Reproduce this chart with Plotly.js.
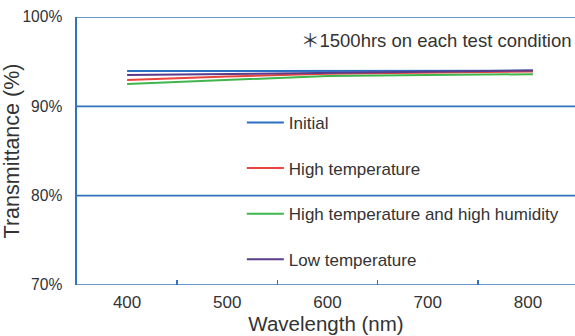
<!DOCTYPE html>
<html><head><meta charset="utf-8">
<script src="https://cdn.plot.ly/plotly-3.0.1.min.js"></script>
<style>html,body{margin:0;padding:0;background:#fff}#c{width:575px;height:336px}</style>
</head><body><div id="c"></div><script>
const wavelength = [400, 500, 600, 700, 805];
const initial = [93.95, 93.97, 93.98, 93.99, 94.0];
const highTemp = [92.95, 93.35, 93.65, 93.8, 93.9];
const highTempHum = [92.5, 92.95, 93.4, 93.5, 93.6];
const lowTemp = [93.5, 93.63, 93.76, 93.88, 94.0];
const seriesNames = ['Initial', 'High temperature', 'High temperature and high humidity', 'Low temperature'];
const seriesColors = ['#2a6fc1', '#e8453c', '#3fb54c', '#5a3c8c'];
const xTickVals = [400, 500, 600, 700, 800];
const xMinorTickVals = [450, 550, 650, 750];
const yTickVals = [70, 80, 90, 100];
const yTickText = ['70%', '80%', '90%', '100%'];

const axisBlue = '#3273c0';
const textColor = '#333';
const fontFam = '"Liberation Sans", Arial, "Noto Sans CJK JP", sans-serif';
const series = [initial, highTemp, highTempHum, lowTemp];
const traces = series.map((s, i) => ({
  x: wavelength, y: s, type: 'scatter', mode: 'lines', name: seriesNames[i],
  legendgroup: 'g' + i, line: {color: seriesColors[i], width: 2}
}));
const shapes = yTickVals.map(v => ({type: 'line', xref: 'paper', yref: 'y', x0: 0, x1: 1, y0: v, y1: v,
  line: {color: axisBlue, width: 1.6}}));
const layout = {
  width: 575, height: 336,
  margin: {l: 77, r: 0, t: 17, b: 51},
  paper_bgcolor: '#fff', plot_bgcolor: '#fff',
  font: {family: fontFam, color: textColor},
  xaxis: {range: [350, 847], tickvals: xTickVals, ticks: '', showgrid: false, zeroline: false,
    showline: false, tickfont: {size: 17, color: textColor}, ticklabelstandoff: 5,
    minor: {tickvals: xMinorTickVals, ticks: 'inside', ticklen: 5, tickcolor: axisBlue, tickwidth: 1.6, showgrid: false},
    title: {text: 'Wavelength (nm)', font: {size: 20.5, color: textColor}, standoff: 3}},
  yaxis: {range: [70, 100], tickvals: yTickVals, ticktext: yTickText, ticks: '', showgrid: false, zeroline: false,
    showline: true, linecolor: axisBlue, linewidth: 1.6, tickfont: {size: 15.6, color: textColor}, ticklabelstandoff: 10,
    title: {text: 'Transmittance (%)', font: {size: 21.5, color: textColor}, standoff: 0}},
  shapes: shapes,
  showlegend: true,
  legend: {x: 0.331, y: 0.672, xanchor: 'left', yanchor: 'top', bgcolor: 'rgba(0,0,0,0)',
    tracegroupgap: 20.5, itemwidth: 37, font: {size: 17, color: textColor}},
  annotations: [{xref: 'paper', yref: 'paper', x: 0.996, y: 0.914, xanchor: 'right', yanchor: 'middle',
    showarrow: false, text: '＊1500hrs on each test condition', font: {size: 18.5, color: textColor}}]
};
Plotly.newPlot('c', traces, layout, {displayModeBar: false, staticPlot: true});
</script></body></html>
